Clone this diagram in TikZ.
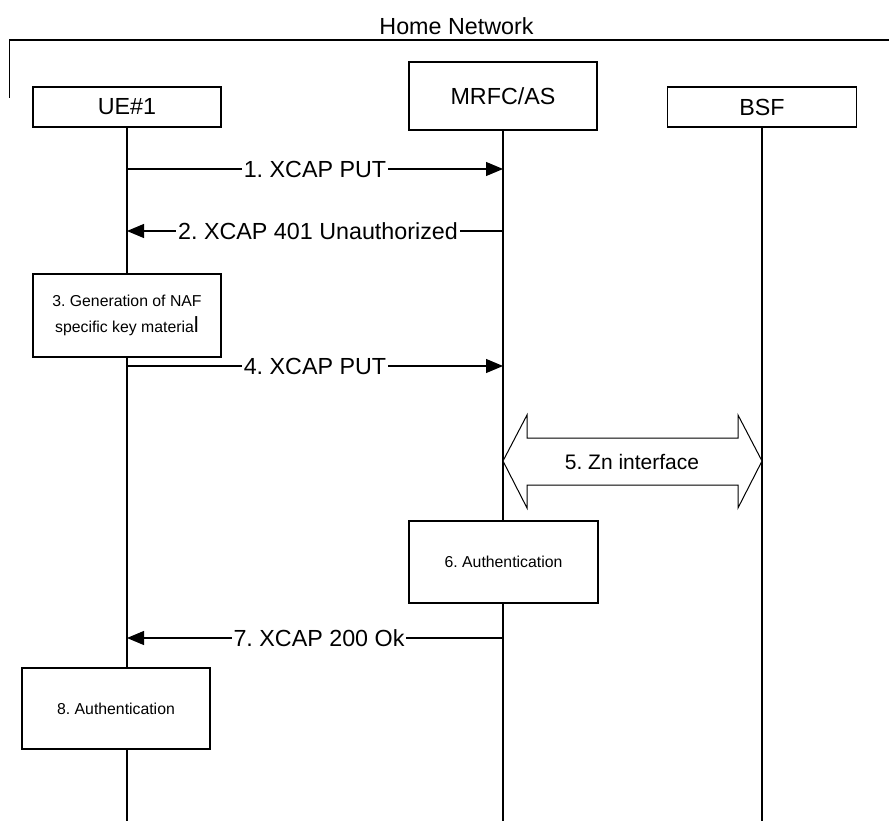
\documentclass[tikz,border=0pt]{standalone}
\usepackage{fontspec}
\setmainfont{Liberation Sans}
\usetikzlibrary{arrows.meta}
\frenchspacing
\begin{document}
\begin{tikzpicture}[x=1pt,y=-1pt,
  entity/.style={draw,line width=1.4pt,minimum height=40pt,minimum width=188pt,inner sep=0pt,
    font=\fontsize{23.3}{28}\selectfont},
  stepbox/.style={draw,line width=1.3pt,minimum width=188pt,inner sep=0pt,align=center,
    font=\fontsize{15.8}{26}\selectfont},
  lifeline/.style={line width=1.2pt},
  msg/.style={line width=1.1pt,-{Triangle[length=17pt,width=14pt]}},
  lbl/.style={fill=white,inner sep=2pt,font=\fontsize{23.3}{28}\selectfont}]
\useasboundingbox (0,0) rectangle (889,821);

% home network frame
\node (hn) at (456.5,26) {\fontsize{23.3}{28}\selectfont Home Network};
\draw[line width=1.2pt] (9.5,98) -- (9.5,40) -- (889,40);

% entities
\node[entity] (ue) at (127,107) {UE\#1};
\node[entity,minimum height=68pt] (mr) at (503,96) {MRFC/AS};
\node[entity,minimum width=189pt] (bsf) at (762,107) {BSF};

% lifeline ends
\coordinate (ueEnd) at (127,821);
\coordinate (mrEnd) at (503,821);
\coordinate (bsfEnd) at (762,821);

% local steps
\node[stepbox,minimum height=83pt] (s3) at (127,315.5)
  {3. Generation of NAF\\specific key materia{\fontsize{22}{22}\selectfont l}};
\node[stepbox,minimum width=189pt,minimum height=82pt] (s6) at (503.5,562) {6. Authentication};
\node[stepbox,minimum height=81pt] (s8) at (116,708.5) {8. Authentication};

% lifelines
\draw[lifeline] (ue.south) -- (s3.north);
\draw[lifeline] (s3.south) -- (127,668);
\draw[lifeline] (127,749.5) -- (ueEnd);
\draw[lifeline] (mr.south) -- (503,521);
\draw[lifeline] (503,603) -- (mrEnd);
\draw[lifeline] (bsf.south) -- (bsfEnd);

% message anchors on the lifelines
\coordinate (u1) at (127,169);  \coordinate (m1) at (503,169);
\coordinate (u2) at (127,231);  \coordinate (m2) at (503,231);
\coordinate (u4) at (127,366);  \coordinate (m4) at (503,366);
\coordinate (u7) at (127,638);  \coordinate (m7) at (503,638);

\draw[msg] (u1) -- node[lbl] {1. XCAP PUT} (m1);
\draw[msg] (m2) -- node[lbl,xshift=3pt] {2. XCAP 401 Unauthorized} (u2);
\draw[msg] (u4) -- node[lbl] {4. XCAP PUT} (m4);
\draw[msg] (m7) -- node[lbl,xshift=4pt] {7. XCAP 200 Ok} (u7);

% Zn interface block arrow
\coordinate (znL) at (503,461);
\coordinate (znR) at (762,461);
\draw[line width=1pt,fill=white] (znL) -- (527,415) -- (527,438) -- (738,438) -- (738,415)
  -- (znR) -- (738,508) -- (738,485) -- (527,485) -- (527,508) -- cycle;
\node[font=\fontsize{21}{26}\selectfont] (zn) at (632,462) {5. Zn interface};
\end{tikzpicture}
\end{document}
